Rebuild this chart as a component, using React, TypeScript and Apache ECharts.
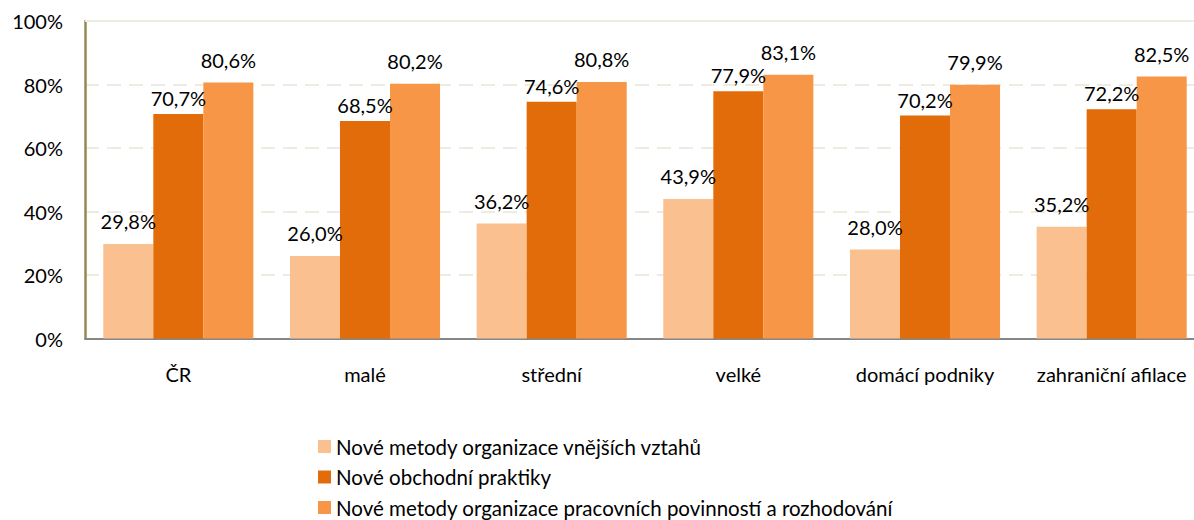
import React, { useEffect, useRef } from "react";
import * as echarts from "echarts";

const categories = ["ČR", "malé", "střední", "velké", "domácí podniky", "zahraniční afilace"];
const seriesNames = [
  "Nové metody organizace vnějších vztahů",
  "Nové obchodní praktiky",
  "Nové metody organizace pracovních povinností a rozhodování",
];
const vnejsiVztahy = [29.8, 26.0, 36.2, 43.9, 28.0, 35.2];
const obchodniPraktiky = [70.7, 68.5, 74.6, 77.9, 70.2, 72.2];
const pracovniPovinnosti = [80.6, 80.2, 80.8, 83.1, 79.9, 82.5];
const colors = ["#FAC090", "#E36C0A", "#F79646"];
const labelDistances = [13, 6, 13];

const FONT = "Lato, 'Open Sans', sans-serif";

export default function App() {
  const ref = useRef<HTMLDivElement>(null);
  useEffect(() => {
    if (!ref.current) return;
    const chart = echarts.init(ref.current, undefined, { renderer: "svg" });
    const data = [vnejsiVztahy, obchodniPraktiky, pracovniPovinnosti];
    chart.setOption({
      animation: false,
      textStyle: { fontFamily: FONT },
      grid: { left: 85, top: 21, width: 1120, height: 317.5, containLabel: false },
      legend: {
        orient: "vertical",
        left: 318,
        top: 436,
        height: 200,
        padding: 0,
        itemWidth: 13,
        itemHeight: 13,
        itemGap: 9.5,
        icon: "rect",
        textStyle: { fontFamily: FONT, fontSize: 20.5, lineHeight: 20, color: "#000" },
        data: seriesNames,
      },
      xAxis: {
        type: "category",
        data: categories,
        axisLine: { show: true, lineStyle: { color: "#868686", width: 2 } },
        axisTick: { show: false },
        axisLabel: { fontFamily: FONT, fontSize: 20, color: "#000", margin: 25, interval: 0 },
      },
      yAxis: {
        type: "value",
        min: 0,
        max: 100,
        interval: 20,
        axisLine: { show: true, lineStyle: { color: "#948A54", width: 2.5 } },
        axisTick: { show: false },
        axisLabel: {
          fontFamily: FONT,
          fontSize: 20,
          color: "#000",
          margin: 22,
          formatter: (v: number) => v + "%",
        },
        splitLine: { show: true, lineStyle: { color: "#EEECE1", width: 2, type: [14, 8] } },
      },
      series: data.map((d, i) => ({
        name: seriesNames[i],
        type: "bar",
        data: d,
        barGap: "0%",
        barCategoryGap: "19.6%",
        itemStyle: { color: colors[i] },
        label: {
          show: true,
          position: "top",
          distance: labelDistances[i],
          fontFamily: FONT,
          fontSize: 20,
          color: "#000",
          formatter: (p: any) => p.value.toFixed(1).replace(".", ",") + "%",
        },
        markLine:
          i === 0
            ? {
                silent: true,
                symbol: "none",
                label: { show: false },
                lineStyle: { color: "#EEECE1", width: 2, type: "solid" },
                data: [{ yAxis: 100 }],
              }
            : undefined,
      })),
    });
    return () => chart.dispose();
  }, []);
  return (
    <div
      style={{ position: "absolute", left: 0, top: 0, width: 1194, height: 520, overflow: "hidden", background: "#fff" }}
    >
      <div ref={ref} style={{ width: 1240, height: 520 }} />
    </div>
  );
}
